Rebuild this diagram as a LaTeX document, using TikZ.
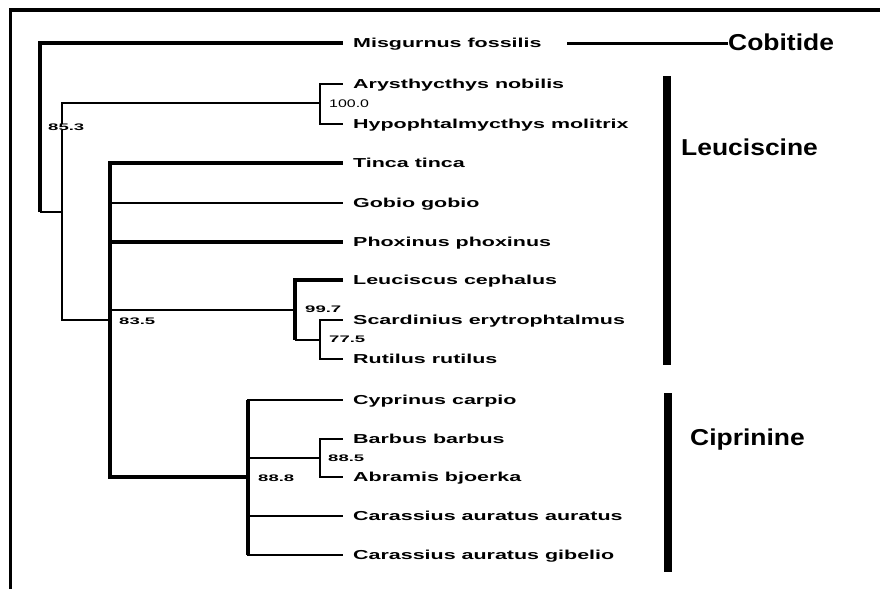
\documentclass[tikz,border=0pt]{standalone}
\usepackage{fontspec}
\newfontfamily\leaffont[FakeStretch=1.65]{Liberation Sans}
\newfontfamily\bsfont[FakeStretch=1.95]{Liberation Sans}
\newfontfamily\hundfont[FakeStretch=1.45]{Liberation Sans}
\newfontfamily\grpfont[FakeStretch=1.15]{Liberation Sans}
\tikzset{
  leaf/.style={anchor=west, inner xsep=10pt, inner ysep=0pt,
    font={\leaffont\bfseries\fontsize{13pt}{15pt}\selectfont},
    text height=9.3pt, text depth=0pt},
  boot/.style={anchor=west, inner sep=0pt, fill=white,
    font={\bsfont\bfseries\fontsize{9.5pt}{11pt}\selectfont},
    text height=6.8pt, text depth=0pt},
  bootb/.style={anchor=west, inner sep=0pt,
    font={\hundfont\fontsize{11pt}{13pt}\selectfont},
    text height=7.9pt, text depth=0pt},
  grp/.style={anchor=west, inner sep=0pt,
    font={\grpfont\bfseries\fontsize{23pt}{26pt}\selectfont},
    text height=16.5pt, text depth=0pt},
  thk/.style={line width=3.2pt},
  thn/.style={line width=1.4pt},
  bar/.style={line width=7.5pt},
}
\begin{document}
\begin{tikzpicture}[x=1pt,y=-1pt]
\useasboundingbox (0,0) rectangle (880,589);
% frame
\draw[line width=3.5pt] (10.5,589) -- (10.5,10) -- (880,10);

% leaves
\node[leaf] (misg)  at (343,43)  {Misgurnus fossilis};
\node[leaf] (arys)  at (343,84)  {Arysthycthys nobilis};
\node[leaf] (hypo)  at (343,124) {Hypophtalmycthys molitrix};
\node[leaf] (tinca) at (343,163) {Tinca tinca};
\node[leaf] (gobio) at (343,203) {Gobio gobio};
\node[leaf] (phox)  at (343,242) {Phoxinus phoxinus};
\node[leaf] (leuc)  at (343,280) {Leuciscus cephalus};
\node[leaf] (scard) at (343,320) {Scardinius erytrophtalmus};
\node[leaf] (rut)   at (343,359) {Rutilus rutilus};
\node[leaf] (cyp)   at (343,400) {Cyprinus carpio};
\node[leaf] (barb)  at (343,439) {Barbus barbus};
\node[leaf] (abr)   at (343,477) {Abramis bjoerka};
\node[leaf] (car1)  at (343,516) {Carassius auratus auratus};
\node[leaf] (car2)  at (343,555) {Carassius auratus gibelio};

% internal nodes
\coordinate (root) at (40,212);
\coordinate (n1) at (62,212);
\coordinate (n2) at (320,103);
\coordinate (n3) at (110,320);
\coordinate (n4) at (295,310);
\coordinate (n5) at (320,340);
\coordinate (n6) at (248,477);
\coordinate (n7) at (320,458);

% branches
\draw[thk] (root) |- (misg.west);
\draw[thn] (root) -- (n1);
\draw[thn] (n1) |- (n2);
\draw[thn] (n1) |- (n3);
\draw[thn] (n2) |- (arys.west);
\draw[thn] (n2) |- (hypo.west);
\draw[thk] (n3) |- (tinca.west);
\draw[thn] (n3) |- (gobio.west);
\draw[thk] (n3) |- (phox.west);
\draw[thn] (n3) |- (n4);
\draw[thk] (n3) |- (n6);
\draw[thk] (n4) |- (leuc.west);
\draw[thk] (n4) -- (n4 |- n5);
\draw[thn] (n4 |- n5) -- (n5);
\draw[thn] (n5) |- (scard.west);
\draw[thn] (n5) |- (rut.west);
\draw[thk] (n6 |- cyp.west) -- (n6 |- car2.west);
\draw[thn] (n6) |- (cyp.west);
\draw[thn] (n6) |- (n7);
\draw[thn] (n6) |- (car1.west);
\draw[thn] (n6) |- (car2.west);
\draw[thn] (n7) |- (barb.west);
\draw[line width=2pt] (n7) |- (abr.west);

% bootstrap values
\node[bootb] (b100) at (329,104) {100.0};
\node[boot] (b853) at (48,127) {85.3};
\node[boot] (b835) at (119,321) {83.5};
\node[boot] (b997) at (305,309) {99.7};
\node[boot] (b775) at (329,339) {77.5};
\node[boot] (b885) at (328,458) {88.5};
\node[boot] (b888) at (258,478) {88.8};

% groups
\node[grp] (cob) at (728,42) {Cobitide};
\coordinate (cobl) at (567,43.5);
\draw[line width=2.5pt] (cobl) -- (cobl -| cob.west);
\node[grp] (leucg) at (681,147) {Leuciscine};
\draw[bar] (667,76) -- (667,365);
\node[grp] (cipg) at (690,437) {Ciprinine};
\draw[line width=8pt] (667.5,393) -- (667.5,572);
\end{tikzpicture}
\end{document}
